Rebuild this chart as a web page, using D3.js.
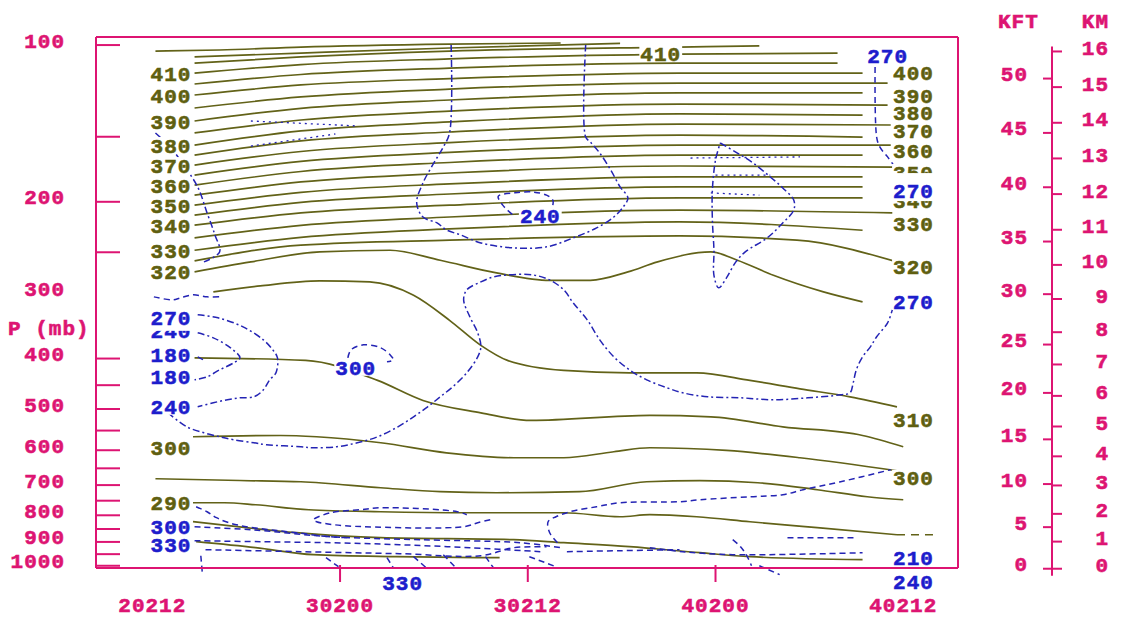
<!DOCTYPE html>
<html><head><meta charset="utf-8">
<script src="https://cdn.jsdelivr.net/npm/d3@7"></script>
<style>
body{margin:0;background:#fff}
svg{display:block}
text{font-family:"Liberation Mono","DejaVu Sans Mono",monospace;font-weight:bold;font-size:21px;letter-spacing:1px;stroke-width:0.6px}
</style></head><body>
<svg id="c" width="1127" height="617"></svg>
<script>
// ---------------- axis data ----------------
const timeHours  = [0, 12, 24, 36, 48];
const timeLabels = ["20212", "30200", "30212", "40200", "40212"];
const timeTicks  = [12, 24, 36];
const pLabels = [100, 200, 300, 400, 500, 600, 700, 800, 900, 1000];
const pTicks  = [100, 150, 200, 250, 400, 450, 500, 550, 600, 650, 700, 750, 800, 850, 900, 950, 1000];
const kftTicks = [0, 5, 10, 15, 20, 25, 30, 35, 40, 45, 50];
const kmTicks  = [0, 1, 2, 3, 4, 5, 6, 7, 8, 9, 10, 11, 12, 13, 14, 15, 16];

// ---------------- potential temperature (olive) : [hour, pressure mb] ----------------
const th425 = [[0.2,102.7],[4.3,102.2],[9.5,100.9],[19.0,99.6],[26.1,99.1]];
const th420 = [[2.7,105.4],[9.5,103.6],[19.0,101.3],[29.9,99.3]];
const th415 = [[2.7,108.3],[9.5,105.4],[19.0,102.7],[33.7,100.9],[38.8,100.4]];
const th410 = [[2.7,113.2],[9.5,109.0],[19.0,106.3],[33.7,104.1],[43.8,103.6]];
const th405 = [[2.7,118.8],[9.5,113.9],[19.0,110.7],[33.7,108.3],[43.8,108.3]];
const th400 = [[2.7,124.7],[9.5,119.3],[19.0,116.0],[33.7,113.2],[45.4,113.2]];
const th395 = [[2.7,132.1],[9.5,125.8],[19.0,121.5],[33.7,118.3],[47.0,118.3]];
const th390 = [[2.7,139.9],[9.5,132.3],[19.0,127.5],[33.7,123.6],[45.4,123.6]];
const th385 = [[2.7,147.5],[9.5,139.3],[19.0,133.9],[33.7,129.8],[47.0,130.4]];
const th380 = [[2.7,155.6],[9.5,146.2],[19.0,140.5],[33.7,135.6],[45.4,136.3]];
const th375 = [[2.7,162.7],[9.5,152.8],[19.0,146.9],[33.7,141.8],[47.2,142.4]];
const th370 = [[2.7,170.0],[9.5,160.1],[19.0,153.9],[33.7,148.9],[45.4,150.2]];
const th365 = [[2.7,177.7],[9.5,167.3],[19.0,160.8],[33.7,155.6],[47.2,155.6]];
const th360 = [[2.7,185.8],[9.5,174.9],[19.0,168.1],[33.7,162.7],[45.4,162.7]];
const th355 = [[2.7,194.2],[9.5,183.2],[19.0,176.1],[33.7,170.7],[47.5,171.5]];
const th350 = [[2.7,203.0],[9.5,191.8],[19.0,184.8],[33.7,179.2],[45.4,179.2]];
const th345 = [[2.7,212.2],[9.5,200.5],[19.0,193.2],[33.7,187.3],[45.4,187.3]];
const th340 = [[2.7,221.8],[9.5,210.1],[19.0,203.0],[33.7,196.6],[45.4,196.6]];
const th335 = [[2.7,234.6],[9.5,221.9],[19.0,213.9],[33.7,207.5],[47.3,210.1]];
const th330 = [[2.7,247.8],[9.5,234.0],[19.0,225.5],[33.7,218.6],[45.4,226.8]];
const th325 = [[2.7,259.7],[9.5,242.3],[19.0,237.0],[33.7,232.6],[41.2,237.0],[47.6,260.9]];
const th320 = [[2.7,272.7],[6.3,260.9],[10.7,249.6],[15.2,247.8],[18.4,259.0],[22.0,273.9],[25.4,283.0],[28.0,283.0],[30.4,272.7],[32.3,260.9],[35.7,249.6],[37.4,259.0],[39.7,276.8],[42.9,297.9],[45.4,311.3]];
const th310 = [[3.9,297.9],[6.9,290.1],[10.7,283.7],[13.9,285.0],[16.7,302.4],[19.0,337.8],[21.0,377.4],[22.7,403.3],[26.3,421.6],[30.5,426.1],[34.8,426.1],[38.2,440.6],[41.4,457.3],[44.6,473.8],[47.6,495.2]];
const th305 = [[2.7,398.7],[9.8,403.3],[14.4,440.6],[17.3,481.4],[21.0,508.5],[24.2,526.0],[31.8,514.5],[35.7,517.5],[40.3,540.9],[45.4,562.1],[48.0,590.8]];
const th300 = [[2.6,565.3],[8.2,562.1],[10.5,565.3],[14.6,580.5],[18.8,606.8],[23.1,620.3],[26.3,620.3],[29.5,604.0],[31.8,593.5],[36.7,600.6],[41.4,620.3],[47.6,657.0]];
const th295 = [[0.2,680.6],[5.6,686.0],[9.5,689.7],[14.6,708.2],[18.4,720.8],[22.0,724.1],[27.3,720.8],[31.6,689.7],[35.0,686.6],[38.7,692.7],[42.5,714.5],[45.7,737.0],[48.0,746.8]];
const th290 = [[2.6,756.8],[4.6,756.8],[6.6,763.5],[10.0,780.6],[14.6,787.5],[20.1,791.0],[26.3,791.0],[29.9,805.1],[31.8,798.0],[34.8,805.1],[38.2,823.1],[42.5,845.2],[47.6,871.8]];
const th290tail = [[47.6,871.8],[49.9,871.8]];
const th285 = [[2.6,823.0],[6.0,845.1],[9.2,864.0],[14.6,883.3],[23.1,891.2],[26.3,903.1],[30.5,919.2],[35.0,943.9],[38.2,960.7],[45.4,973.5]];
const th280 = [[2.8,899.1],[6.6,923.3],[10.3,952.3],[15.6,960.7],[22.2,965.0]];

const thetaLines = [th425,th420,th415,th410,th405,th400,th395,th390,th385,th380,th375,th370,th365,
  th360,th355,th350,th345,th340,th335,th330,th325,th320,th310,th305,th300,th295,th290,th285,th280];

// ---------------- blue dashed contours : [hour, pressure mb] ----------------
const blueA = [[0.2,147.5],[1.2,157.6],[1.9,168.4],[2.9,187.3],[3.5,210.1],[4.0,231.5],[4.3,249.6],[3.3,260.9]];
const blueB = [[19.1,100],[19.0,147.5],[18.6,156.9],[18.0,168.4],[17.3,184.0],[16.9,201.0],[17.3,213.9],[18.2,219.6],
  [18.8,226.5],[19.7,231.5],[21.0,239.9],[23.1,245.2],[25.2,244.1],[26.9,234.6],[28.4,224.5],[29.5,213.9],
  [30.1,204.6],[30.4,196.6],[29.9,187.3],[29.3,173.7],[28.6,161.2],[28.0,153.5],[27.7,150.2],[27.7,100]];
const ring240 = [[25.6,203.0],[25.6,198.5],[25.2,194.2],[24.3,191.5],[23.1,192.3],[22.2,194.2],[22.1,195.7],[22.4,203.0],[22.7,207.5],[23.2,213.9]];
const blueC = [[36.3,154.2],[37.4,161.2],[38.4,168.4],[39.5,179.2],[40.3,188.1],[41.0,198.5],[41.0,207.5],[40.3,219.6],
  [39.3,234.6],[37.9,249.6],[37.3,260.9],[36.7,280.0],[36.2,292.6],[35.9,276.8],[35.9,247.8],[35.8,216.9],[35.8,189.9],[36.0,166.3],[36.3,154.2]];
const blueC1 = [[34.4,164.8],[41.4,164.0]];
const blueC2 = [[36.0,177.7],[39.5,177.7]];
const blueC3 = [[35.7,192.3],[38.8,194.2]];
const blueD = [[46.2,110.2],[46.3,150.2],[46.5,156.9],[47.0,164.0],[47.6,173.7]];
const blueE = [[1.0,508.4],[2.2,540.9],[3.3,555.4],[4.3,565.3],[5.2,572.9],[6.5,580.5],[7.3,585.6],[9.5,590.8],[10.3,593.5],
  [11.8,590.8],[13.1,580.5],[14.4,565.3],[15.7,540.9],[16.7,517.5],[17.6,495.2],[18.4,473.8],[19.2,453.3],[20.1,426.1],
  [20.8,397.0],[21.0,379.8],[20.8,357.0],[20.3,332.7],[19.9,308.6],[20.1,295.2],[21.0,285.0],[21.8,278.8],[22.7,276.3],
  [24.3,276.3],[25.4,282.5],[26.3,295.2],[26.9,312.7],[27.8,337.1],[28.6,368.3],[29.5,397.0],[30.5,420.5],[31.6,439.5],
  [32.9,455.2],[33.9,465.4],[35.5,473.7],[37.6,475.8],[39.7,480.0],[41.9,475.8],[44.0,469.5],[44.6,465.4],[44.8,445.3],
  [45.0,420.5],[45.4,397.0],[45.9,379.8],[46.3,363.3],[47.0,341.6],[47.3,322.5]];
const blueF1 = [[2.9,329.7],[4.2,334.1],[5.8,347.7],[7.1,368.3],[7.7,384.9],[8.0,398.7],[7.9,426.1],[7.5,439.5],
  [7.1,459.3],[6.5,473.7],[5.6,475.8],[4.8,480.0],[3.9,486.4],[2.9,495.2]];
const blueF2 = [[2.9,357.0],[3.9,365.0],[5.0,381.5],[5.6,398.7],[5.2,407.7],[4.3,420.5],[3.5,433.7],[2.7,439.5]];
const blueF3 = [[2.9,397.0],[3.3,403.0]];
const blueG = [[12.5,398.7],[12.7,384.9],[13.5,376.5],[14.6,381.5],[15.2,393.5],[15.4,402.3],[15.0,405.9]];
const blueH = [[0.1,304.5],[1.3,308.6],[1.8,305.9],[2.6,301.8],[3.5,304.5],[4.3,304.5]];
const blueI1 = [[6.3,139.9],[13.1,143.0]];
const blueI2 = [[6.3,156.3],[11.7,148.2]];
const blueJ = [[2.8,770.3],[3.5,787.5],[4.1,808.6],[4.9,826.8],[6.0,841.4],[7.5,852.7],[9.2,864.0],[11.3,879.5],[12.6,883.3]];
const blueK = [[21.6,815.8],[20.8,826.8],[19.9,841.4],[13.5,841.4],[11.6,834.0],[10.5,823.0],[10.3,815.8],[11.4,791.0],[13.3,780.6],[14.6,773.7],[19.5,787.5],[20.1,798.0]];
const blueL = [[25.9,903.1],[25.4,864.0],[25.3,823.0],[25.8,805.1],[26.7,787.5],[28.4,770.3],[29.9,756.8],[33.7,753.5],
  [35.0,746.8],[38.2,737.0],[40.3,730.5],[41.6,714.5],[44.0,689.7],[47.2,654.0]];
const blueM = [[31.8,923.3],[33.9,939.7],[37.1,952.3],[45.4,943.9]];
const blueN = [[40.6,883.3],[45.0,883.3]];
const blueO = [[37.1,891.2],[37.6,919.2],[38.0,956.5],[38.3,999.8]];
const blueO2 = [[38.8,999.8],[40.1,1040]];
const blueP = [[2.7,895.1],[6.9,899.1],[11.4,903.1],[15.8,911.1],[20.3,923.3],[24.8,939.7]];
const blueQ = [[3.4,931.4],[9.5,939.7],[15.8,948.1],[21.0,956.5],[23.1,923.3],[25.2,919.2]];
const blueR = [[26.5,939.7],[29.9,935.6],[33.7,931.4]];
const blueLow = [[2.7,841.4],[6.3,852.7],[11.4,879.5],[17.1,891.2],[23.5,903.1],[26.1,923.3]];
const blueS = [
  [[3.1,956.5],[3.2,1035.6]], [[11.1,964.9],[11.9,1004.2]], [[15.0,964.9],[15.4,1008.6]],
  [[16.7,960.7],[17.5,1008.6]], [[18.6,952.3],[19.4,1008.6]], [[21.3,960.7],[21.8,1008.6]], [[24.1,960.7],[25.8,1004.2]]
];

const blueDashDot = [blueB, blueC, blueE, blueA, blueF1, blueF2];
const blueDashed  = [ring240, blueD, blueF3, blueG, blueH, blueJ, blueK, blueL, blueM, blueN, blueO, blueO2, blueP, blueQ, blueR, blueLow, ...blueS];
const blueDotted  = [blueI1, blueI2, blueC1, blueC2, blueC3];

// ---------------- contour labels : [value, pressure] ----------------
const oliveLabelsLeft  = [[410,113.2],[400,124.7],[390,139.9],[380,155.6],[370,170.0],[360,185.8],[350,203.0],[340,221.8],[330,247.8],[320,272.7],[300,593.5],[290,756.8]];
const oliveLabelsRight = [[400,112.7],[390,124.7],[380,134.5],[370,145.6],[360,159.1],[350,175.3],[340,198.5],[330,219.6],[320,266.7],[310,524.4],[300,677.7]];
const oliveLabelsMid   = [[410,32.5,103.6]];
const blueLabelsLeft   = [[240,353.9],[270,334.1],[180,393.5],[180,433.7],[240,495.2],[300,841.4],[330,911.1]];
const blueLabelsRight  = [[270,189.9],[270,311.3],[210,964.9],[240,1073]];
const blueLabelsMid    = [[240,24.8,212.0],[300,13.0,416.8],[270,47.0,104.5],[330,16.0,1077.7]];

// ---------------- drawing ----------------
const W = 1127, H = 617;
const PINK = "#dd1472", OLIVE = "#626218", OLIVE_T = "#5f5f10", BLUE = "#2424b4", BLUE_T = "#1d1dcc";
const svg = d3.select("#c");
svg.append("rect").attr("width", W).attr("height", H).attr("fill", "#fff");

const x = d3.scaleLinear().domain([-3.6, 51.5]).range([96, 958]);
const y = d3.scaleLog().domain([96.5, 1010]).range([37, 568]);

function stdP(zm){
  if (zm <= 11000) return 1013.25 * Math.pow(1 - 0.0065 * zm / 288.15, 5.25588);
  return 226.32 * Math.exp(-(zm - 11000) / 6341.62);
}

const lineOlive = d3.line().x(d => x(d[0])).y(d => y(d[1])).curve(d3.curveMonotoneX);
const lineBlue  = d3.line().x(d => x(d[0])).y(d => y(d[1])).curve(d3.curveCatmullRom.alpha(0.5));

const gOl = svg.append("g");
thetaLines.forEach(pts => gOl.append("path").attr("d", lineOlive(pts))
  .attr("fill", "none").attr("stroke", OLIVE).attr("stroke-width", 1.7));
gOl.append("path").attr("d", lineOlive(th290tail)).attr("fill", "none").attr("stroke", OLIVE)
  .attr("stroke-width", 1.7).attr("stroke-dasharray", "8,6");

const gBl = svg.append("g");
blueDashDot.forEach(pts => gBl.append("path").attr("d", lineBlue(pts)).attr("fill", "none")
  .attr("stroke", BLUE).attr("stroke-width", 1.5).attr("stroke-dasharray", "7,3,2,3"));
blueDashed.forEach(pts => gBl.append("path").attr("d", lineBlue(pts)).attr("fill", "none")
  .attr("stroke", BLUE).attr("stroke-width", 1.5).attr("stroke-dasharray", "6,4"));
blueDotted.forEach(pts => gBl.append("path").attr("d", lineBlue(pts)).attr("fill", "none")
  .attr("stroke", BLUE).attr("stroke-width", 1.3).attr("stroke-dasharray", "2,4"));

// labels with white backing (top / bottom extent of the backing)
const gLab = svg.append("g");
function label(txt, px, py, anchor, color, up = 8, down = 8){
  const g = gLab.append("g");
  const t = g.append("text").attr("x", px).attr("y", py).attr("dy", "0.36em")
    .attr("text-anchor", anchor).attr("fill", color).attr("stroke", color).text(txt);
  const b = t.node().getBBox();
  g.insert("rect", "text").attr("x", b.x - 1).attr("y", py - up).attr("width", b.width + 2)
    .attr("height", up + down).attr("fill", "#fff");
}
const xL = x(2.5), xR = x(47.35);
oliveLabelsLeft.forEach(d => label(d[0], xL, y(d[1]), "end", OLIVE_T));
oliveLabelsMid.forEach(d => label(d[0], x(d[1]), y(d[2]), "middle", OLIVE_T));
oliveLabelsRight.forEach(d => label(d[0], xR, y(d[1]), "start", OLIVE_T));
blueLabelsLeft.forEach((d, i) => label(d[0], xL, y(d[1]), "end", BLUE_T, 8, i === 1 ? 13 : 8));
blueLabelsRight.forEach((d, i) => label(d[0], xR, y(d[1]), "start", BLUE_T, i === 0 ? 17 : 8, i === 0 ? 11 : 8));
blueLabelsMid.forEach(d => label(d[0], x(d[1]), y(d[2]), "middle", BLUE_T));

// ---------------- axes (pink) ----------------
const gAx = svg.append("g").attr("stroke", PINK).attr("stroke-width", 2);
const [t0, t1] = x.domain(), [p0, p1] = y.domain();
gAx.append("line").attr("x1", x(t0)).attr("x2", x(t1)).attr("y1", y(p0)).attr("y2", y(p0));
gAx.append("line").attr("x1", x(t0)).attr("x2", x(t1)).attr("y1", y(p1)).attr("y2", y(p1));
gAx.append("line").attr("x1", x(t0)).attr("x2", x(t0)).attr("y1", y(p0)).attr("y2", y(p1));
gAx.append("line").attr("x1", x(t1)).attr("x2", x(t1)).attr("y1", y(p0)).attr("y2", y(p1));
pTicks.forEach(p => gAx.append("line").attr("x1", x(t0)).attr("x2", x(t0) + 24).attr("y1", y(p)).attr("y2", y(p)));
timeTicks.forEach(h => gAx.append("line").attr("x1", x(h)).attr("x2", x(h)).attr("y1", y(p1) - 3).attr("y2", y(p1) + 14));

const gTx = svg.append("g").attr("fill", PINK).attr("stroke", PINK);
pLabels.forEach(p => gTx.append("text").attr("x", 65).attr("y", y(p) - 5).attr("dy", "0.36em").attr("text-anchor", "end").text(p));
gTx.append("text").attr("x", 8).attr("y", 327).attr("dy", "0.36em").text("P (mb)");
timeHours.forEach((h, i) => gTx.append("text").attr("x", x(h)).attr("y", 604).attr("dy", "0.36em")
  .attr("text-anchor", "middle").text(timeLabels[i]));

// right height axis (standard atmosphere)
const AX = 1052;
const yKm = km => y(stdP(km * 1000));
const yKft = k => y(stdP(k * 304.8));
gAx.append("line").attr("x1", AX).attr("x2", AX).attr("y1", yKm(16) - 5).attr("y2", yKm(0) + 7);
kftTicks.forEach(k => gAx.append("line").attr("x1", AX - 9).attr("x2", AX).attr("y1", yKft(k)).attr("y2", yKft(k)));
kmTicks.forEach(k => gAx.append("line").attr("x1", AX).attr("x2", AX + 10).attr("y1", yKm(k)).attr("y2", yKm(k)));
kftTicks.forEach(k => gTx.append("text").attr("x", 1028).attr("y", yKft(k) - 5).attr("dy", "0.36em").attr("text-anchor", "end").text(k));
kmTicks.forEach(k => gTx.append("text").attr("x", 1109).attr("y", yKm(k) - 4).attr("dy", "0.36em").attr("text-anchor", "end").text(k));
gTx.append("text").attr("x", 998).attr("y", 20).attr("dy", "0.36em").text("KFT");
gTx.append("text").attr("x", 1109).attr("y", 20).attr("dy", "0.36em").attr("text-anchor", "end").text("KM");
</script>
</body></html>
